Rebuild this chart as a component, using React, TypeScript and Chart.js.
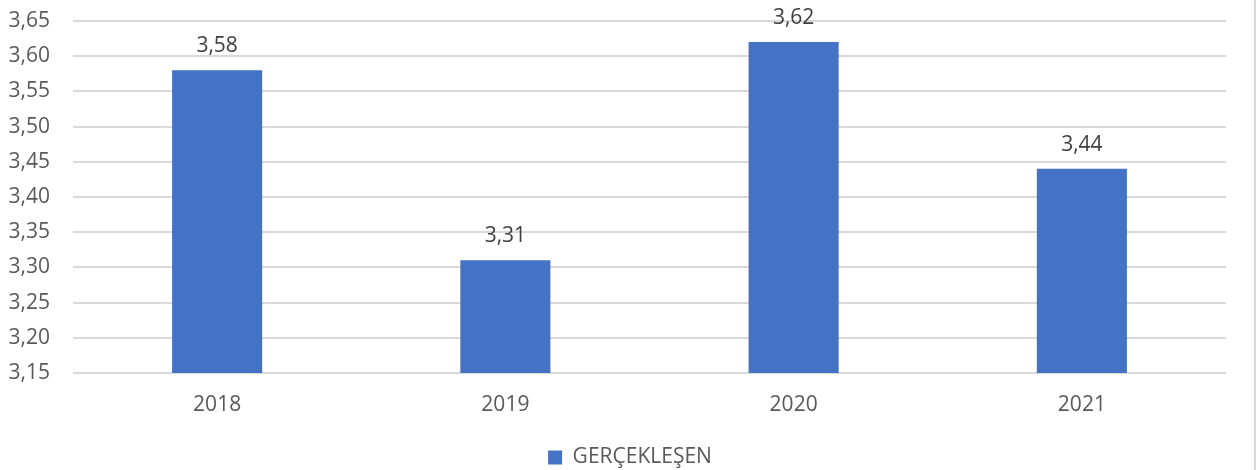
import React, { useEffect, useRef } from "react";
import { Chart, registerables } from "chart.js";

Chart.register(...registerables);

const categories = ["2018", "2019", "2020", "2021"];
const values = [3.58, 3.31, 3.62, 3.44];
const seriesLabel = "GERÇEKLEŞEN";
const yMin = 3.15;
const yMax = 3.65;
const yStep = 0.05;

const FONT = "'Open Sans', 'Liberation Sans', sans-serif";
const FS = 21;
const fmt = (v: number) => v.toFixed(2).replace(".", ",");

const dataLabels = {
  id: "dataLabels",
  afterDatasetsDraw(chart: any) {
    const ctx = chart.ctx;
    ctx.save();
    ctx.font = `${FS}px ${FONT}`;
    ctx.fillStyle = "#404040";
    ctx.textAlign = "center";
    ctx.textBaseline = "alphabetic";
    chart.data.datasets.forEach((ds: any, i: number) => {
      chart.getDatasetMeta(i).data.forEach((el: any, j: number) => {
        ctx.fillText(fmt(ds.data[j]), el.x, el.y - 18);
      });
    });
    ctx.restore();
  },
};

const frame = {
  id: "frame",
  afterLayout(chart: any) {
    const l = chart.legend;
    if (l) {
      l.left = 0;
      l.right = chart.width;
      l.width = chart.width;
    }
  },
  beforeDraw(chart: any) {
    const ctx = chart.ctx;
    ctx.save();
    ctx.fillStyle = "#ffffff";
    ctx.fillRect(0, 0, chart.width, chart.height);
    ctx.strokeStyle = "#d9d9d9";
    ctx.lineWidth = 2;
    ctx.beginPath();
    ctx.moveTo(chart.width - 5, 0);
    ctx.lineTo(chart.width - 5, chart.height);
    ctx.stroke();
    ctx.restore();
  },
};

export default function App() {
  const ref = useRef<HTMLCanvasElement>(null);
  useEffect(() => {
    if (!ref.current) return;
    const chart = new Chart(ref.current, {
      type: "bar",
      data: {
        labels: categories,
        datasets: [
          {
            label: seriesLabel,
            data: values,
            backgroundColor: "#4472C4",
            borderWidth: 0,
            categoryPercentage: 1,
            barPercentage: 0.3125,
          },
        ],
      },
      options: {
        animation: false,
        responsive: false,
        maintainAspectRatio: false,
        layout: { padding: { top: 21, right: 34, bottom: -8, left: 0 } },
        plugins: {
          tooltip: { enabled: false },
          legend: {
            position: "bottom",
            labels: {
              boxWidth: 14,
              boxHeight: 14,
              padding: 0,
              color: "#595959",
              font: { family: FONT, size: FS },
            },
          },
        },
        scales: {
          x: {
            grid: { display: false },
            border: { display: false },
            ticks: { color: "#595959", font: { family: FONT, size: FS }, padding: 11 },
            afterFit(scale: any) {
              scale.height = 74;
            },
          },
          y: {
            min: yMin,
            max: yMax,
            grid: { color: "#d9d9d9", lineWidth: 2, drawTicks: false },
            border: { display: false },
            ticks: {
              stepSize: yStep,
              padding: 23,
              color: "#595959",
              font: { family: FONT, size: FS },
              callback: (v: any) => fmt(Number(v)),
            },
            afterFit(scale: any) {
              scale.width = 73;
              scale.paddingTop = 0;
              scale.paddingBottom = 0;
            },
          },
        },
      },
      plugins: [dataLabels, frame],
    });
    return () => chart.destroy();
  }, []);
  return (
    <div style={{ position: "fixed", left: 0, top: 0, width: 1260, height: 470, background: "#fff" }}>
      <canvas ref={ref} width={1260} height={470} style={{ width: 1260, height: 470 }} />
    </div>
  );
}
